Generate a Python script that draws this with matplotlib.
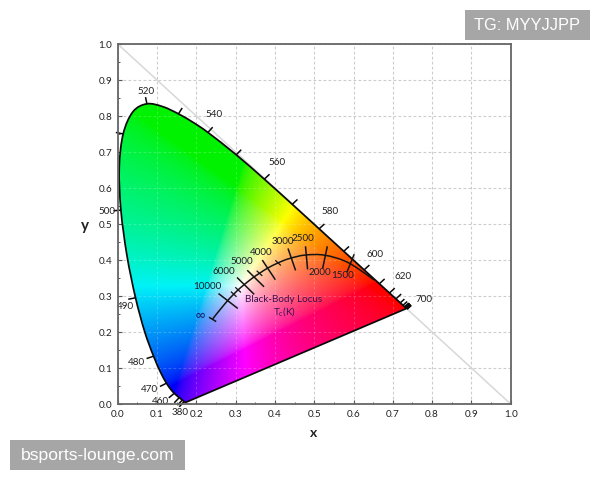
import numpy as np
import matplotlib
matplotlib.use("Agg")
import matplotlib.pyplot as plt
from matplotlib.patches import Rectangle, PathPatch
from matplotlib.path import Path

plt.rcParams['font.family'] = ['Lato', 'DejaVu Sans']

# spectral locus, CIE 1931
wave = [380, 390, 400, 410, 420, 430, 440, 450, 455, 460, 465, 470, 475, 480, 485, 490, 495, 500, 505,
        510, 515, 520, 525, 530, 535, 540, 550, 560, 570, 580, 590, 600, 610, 620, 630,
        640, 650, 660, 670, 680, 690, 700]
locus_x = [.1741, .1738, .1733, .1726, .1714, .1689, .1644, .1566, .1510, .1440, .1355, .1241, .1096, .0913, .0687, .0454, .0235, .0082, .0039,
           .0139, .0389, .0743, .1142, .1547, .1929, .2296, .3016, .3731, .4441, .5125, .5752, .6270, .6658, .6915, .7079,
           .7190, .7260, .7300, .7327, .7334, .7340, .7347]
locus_y = [.0050, .0049, .0048, .0048, .0051, .0069, .0109, .0177, .0227, .0297, .0399, .0578, .0868, .1327, .2007, .2950, .4127, .5384, .6548,
           .7502, .8120, .8338, .8262, .8059, .7816, .7543, .6923, .6245, .5547, .4866, .4242, .3725, .3340, .3083, .2920,
           .2809, .2740, .2700, .2673, .2666, .2660, .2653]
tick_waves = [430, 440, 450, 460, 470, 480, 490, 500, 510, 520, 530, 540, 550, 560, 570, 580,
              590, 600, 610, 620, 630, 640, 650, 660, 670, 680, 690, 700]

wave_labels = ['520', '540', '560', '580', '600', '620', '700', '500', '490', '480', '470', '460', '380']
wave_label_x = [.071, .245, .405, .541, .654, .727, .779, -.026, .020, .047, .081, .108, .158]
wave_label_y = [.867, .804, .672, .534, .414, .353, .290, .534, .270, .115, .039, .007, -.024]

# black body curve
bb_x = [.2416, .2500, .2650, .2807, .2952, .3064, .3221, .3451, .3608, .3805, .4080, .4369, .4769, .5266, .5857, .6528]
bb_y = [.2360, .2480, .2680, .2884, .3050, .3170, .3318, .3516, .3630, .3768, .3920, .4041, .4137, .4133, .3931, .3444]
# minor marks on the curve
bb_minor_x = [.2952, .3064, .3608, .4080]
bb_minor_y = [.3050, .3170, .3630, .3920]

# isotherm end points
iso_x0 = [.258, .305, .331, .369, .434, .478, .533, .601, .2340]
iso_y0 = [.3055, .3500, .3700, .3980, .4300, .4360, .4360, .4140, .2400]
iso_x1 = [.304, .346, .371, .400, .452, .483, .522, .584, .2490]
iso_y1 = [.2667, .3060, .3270, .3470, .3730, .3760, .3790, .3680, .2300]

temp_labels = ['10000', '6000', '5000', '4000', '3000', '2500', '2000', '1500']
temp_label_x = [.227, .270, .317, .364, .420, .472, .515, .573]
temp_label_y = [.327, .369, .396, .422, .451, .461, .364, .358]

ticks_major = [0.0, 0.1, 0.2, 0.3, 0.4, 0.5, 0.6, 0.7, 0.8, 0.9, 1.0]
ticks_minor = [.05, .15, .25, .35, .45, .55, .65, .75, .85, .95]


def smooth_path(xs, ys, closed=False):
    # catmull-rom through the points, as bezier segments
    p = np.column_stack([xs, ys])
    verts = [p[0]]
    codes = [Path.MOVETO]
    for i in range(len(p) - 1):
        a = p[max(i - 1, 0)]
        d = p[min(i + 2, len(p) - 1)]
        verts += [p[i] + (p[i + 1] - a) / 6, p[i + 1] - (d - p[i]) / 6, p[i + 1]]
        codes += [Path.CURVE4] * 3
    if closed:
        verts.append(p[0])
        codes.append(Path.LINETO)
    return Path(verts, codes)


fig = plt.figure(figsize=(6, 4.8), dpi=100)
ax = fig.add_axes([117.7 / 600, 76 / 480, 393 / 600, 360 / 480])
ax.set_xlim(0, 1)
ax.set_ylim(0, 1)

# gamut colours from chromaticity
xx, yy = np.meshgrid(np.linspace(0, 0.8, 500), np.linspace(0.001, 0.9, 500))
X = xx / yy
Z = (1 - xx - yy) / yy
r = 3.2406 * X - 1.5372 - 0.4986 * Z
g = -0.9689 * X + 1.8758 + 0.0415 * Z
b = 0.0557 * X - 0.2040 + 1.0570 * Z
rgb = np.clip(np.dstack([r, g, b]), 0, None)
rgb = rgb / rgb.max(axis=2, keepdims=True).clip(1e-6)
rgb = rgb ** (1 / 1.7)
# greens and blues sit a little darker where red is absent
rgb[..., 1] *= 1 - 0.05 * (1 - rgb[..., 0])
rgb[..., 2] *= 1 - 0.03 * (1 - rgb[..., 0])

ax.grid(True, color='#cccccc', ls=(0, (2.5, 2)), lw=0.8, zorder=0)
ax.set_axisbelow(True)
ax.plot([0, 1], [1, 0], color='#d8d8d8', lw=1.1, zorder=1)

im = ax.imshow(rgb, extent=(0, 0.8, 0.001, 0.9), origin='lower', aspect='auto', zorder=2, interpolation='bilinear')
gamut = PathPatch(smooth_path(locus_x, locus_y, closed=True), transform=ax.transData, fc='none', ec='none')
ax.add_patch(gamut)
im.set_clip_path(gamut)

# faint grid showing through the colours
for t in ticks_major[1:-1]:
    for line in (ax.axvline(t), ax.axhline(t)):
        line.set(color='white', alpha=0.2, ls=(0, (2.5, 2)), lw=0.8, zorder=3)
        line.set_clip_path(gamut)

ax.add_patch(PathPatch(smooth_path(locus_x, locus_y, closed=True), fc='none', ec='#0a0a0a', lw=1.25, zorder=5))

# wavelength marks, along the outward normal of the curve
lx = np.array(locus_x)
ly = np.array(locus_y)
for w in tick_waves:
    i = wave.index(w)
    j0, j1 = i - 1, min(i + 1, len(wave) - 1)
    dx, dy = lx[j1] - lx[j0], ly[j1] - ly[j0]
    n = np.hypot(dx, dy)
    size = 0.019 if w < 640 else 0.015
    ax.plot([lx[i], lx[i] - dy / n * size], [ly[i], ly[i] + dx / n * size],
            color='#0a0a0a', lw=2.6 if w > 670 else 1.1, zorder=5, clip_on=False, solid_capstyle='butt')

for s, x, y in zip(wave_labels, wave_label_x, wave_label_y):
    ax.text(x, y, s, fontsize=7.1, color='#222222', ha='center', va='center', zorder=6)

# black body locus
ax.add_patch(PathPatch(smooth_path(bb_x, bb_y), fc='none', ec='#141414', lw=1.1, zorder=6))
for i in range(len(iso_x0)):
    ax.plot([iso_x0[i], iso_x1[i]], [iso_y0[i], iso_y1[i]], color='#141414', lw=1.1, zorder=6)
for x, y in zip(bb_minor_x, bb_minor_y):
    ax.plot([x - .006, x + .006], [y + .006, y - .006], color='#141414', lw=0.9, zorder=6)

for s, x, y in zip(temp_labels, temp_label_x, temp_label_y):
    ax.text(x, y, s, fontsize=7.1, color='#1c1c2a', ha='center', va='center', zorder=7)
ax.text(.211, .247, '\u221e', fontsize=9.5, fontweight='bold', color='#16307f', ha='center', va='center', zorder=7,
        family=['DejaVu Sans'])
ax.text(.423, .290, 'Black-Body Locus', fontsize=7.1, color='#3a1050', ha='center', va='center', zorder=7)
ax.text(.423, .258, 'T$\\mathregular{_c}$(K)', fontsize=7.1, color='#3a1050', ha='center', va='center', zorder=7)

ax.set_xticks(ticks_major)
ax.set_yticks(ticks_major)
ax.set_xticks(ticks_minor, minor=True)
ax.set_yticks(ticks_minor, minor=True)
ax.set_xticklabels([f'{t:.1f}' for t in ticks_major])
ax.set_yticklabels([f'{t:.1f}' for t in ticks_major])
ax.tick_params(which='major', direction='in', length=3, width=0.8, color='#555555', labelsize=7.1,
               labelcolor='#222222', pad=4)
ax.tick_params(which='minor', direction='in', length=1.5, width=0.7, color='#555555')
ax.tick_params(top=False, right=False, which='both')
for s in ax.spines.values():
    s.set_color('#666666')
    s.set_linewidth(1.3)
    s.set_zorder(8)

fig.text(314 / 600, 1 - 433 / 480, 'x', fontsize=10, fontweight='bold', color='#222222', ha='center', va='center')
fig.text(85 / 600, 1 - 226 / 480, 'y', fontsize=11, fontweight='bold', color='#222222', ha='center', va='center')

# watermark boxes
fig.patches.append(Rectangle((465 / 600, 1 - 40 / 480), 125 / 600, 30 / 480, transform=fig.transFigure, fc='#a6a6a6', ec='none', zorder=10))
fig.patches.append(Rectangle((10 / 600, 1 - 470 / 480), 175 / 600, 30 / 480, transform=fig.transFigure, fc='#a6a6a6', ec='none', zorder=10))
fig.text(527.5 / 600, 1 - 25.5 / 480, 'TG: MYYJJPP', fontsize=11.8, color='white', ha='center', va='center', zorder=11,
         family=['Liberation Sans'])
fig.text(97.5 / 600, 1 - 455.5 / 480, 'bsports-lounge.com', fontsize=12.6, color='white', ha='center', va='center', zorder=11,
         family=['Liberation Sans'])

fig.savefig('out.png', dpi=100)
